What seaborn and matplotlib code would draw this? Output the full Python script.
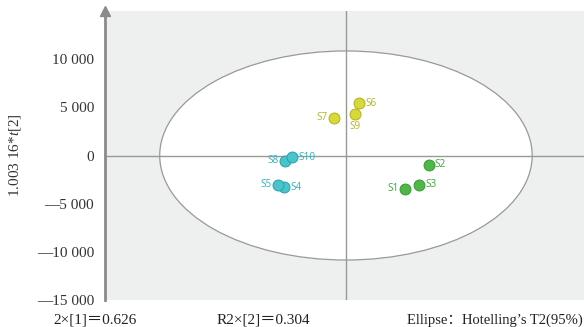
import numpy as np
import pandas as pd
import matplotlib
matplotlib.use("Agg")
import matplotlib.pyplot as plt
from matplotlib.patches import Ellipse
from matplotlib.ticker import MultipleLocator, FuncFormatter
import seaborn as sns

# PCA scores
samples = ["S1", "S2", "S3", "S4", "S5", "S6", "S7", "S8", "S9", "S10"]
t1 = [6150, 8620, 7640, -6430, -7080, 1350, -1220, -6350, 910, -5630]
t2 = [-3470, -970, -3050, -3300, -3020, 5420, 3930, -520, 4340, -180]
groups = ["A", "A", "A", "C", "C", "B", "B", "C", "B", "C"]

# which side of each point its name goes on
label_side = {"S1": "left", "S2": "right", "S3": "right", "S4": "right",
              "S5": "left", "S6": "right", "S7": "left", "S8": "left",
              "S9": "below", "S10": "right"}

# Hotelling's T2 ellipse semi-axes
ell_a = 19400
ell_b = 10850

group_colors = {"A": "#4db848", "B": "#d8d838", "C": "#48c4cc"}
edge_colors = {"A": "#3a9a36", "B": "#b0b020", "C": "#2aa0a8"}
text_colors = {"A": "#45b040", "B": "#b8b830", "C": "#3ab8c0"}

yticks = [-15000, -10000, -5000, 0, 5000, 10000]

df = pd.DataFrame({"sample": samples, "t1": t1, "t2": t2, "group": groups})

sns.set_style("white")
plt.rcParams["font.family"] = ["Liberation Serif", "Noto Sans CJK SC"]
plt.rcParams["mathtext.fontset"] = "custom"
plt.rcParams["mathtext.it"] = "Liberation Serif:italic"
plt.rcParams["mathtext.rm"] = "Liberation Serif"

fig = plt.figure(figsize=(5.84, 3.27), dpi=100)
ax = fig.add_axes([105 / 584, 1 - 300 / 327, 1 - 105 / 584, 289 / 327])
ax.set_facecolor("#eeefef")

ax.set_xlim(-25100, 24800)
ax.set_ylim(-15000, 15000)

ax.add_patch(Ellipse((0, 0), 2 * ell_a, 2 * ell_b, facecolor="white",
                     edgecolor="#999999", linewidth=0.9, zorder=1))
ax.axhline(0, color="#999999", lw=1.0, zorder=2)
ax.axvline(0, color="#999999", lw=1.0, zorder=2)

for g in ["A", "B", "C"]:
    sub = df[df["group"] == g]
    sns.scatterplot(data=sub, x="t1", y="t2", ax=ax, s=62,
                    color=group_colors[g], edgecolor=edge_colors[g],
                    linewidth=0.7, zorder=3, legend=False)

for s, x, y, g in zip(samples, t1, t2, groups):
    side = label_side[s]
    if side == "right":
        off, ha, va = (4.5, 0), "left", "center"
    elif side == "left":
        off, ha, va = (-4.5, 0), "right", "center"
    else:
        off, ha, va = (0, -5.5), "center", "top"
    ax.annotate(s, (x, y), xytext=off, textcoords="offset points",
                ha=ha, va=va, fontsize=7.2, color=text_colors[g],
                family="Noto Sans", zorder=4)

# y axis styling
for side in ["top", "right", "bottom"]:
    ax.spines[side].set_visible(False)
ax.spines["left"].set_color("#8a8a8a")
ax.spines["left"].set_linewidth(2)
ax.set_xticks([])
ax.set_xlabel("")
ax.set_yticks(yticks)
ax.yaxis.set_minor_locator(MultipleLocator(1000))
ax.tick_params(axis="y", which="major", length=5, width=1.2, color="#8a8a8a",
               labelsize=11, labelcolor="#333333", pad=3)
ax.tick_params(axis="y", which="minor", length=3, width=0.8, color="#8a8a8a")


def fmt(v, _):
    v = int(round(v))
    s = f"{abs(v):,}".replace(",", " ")
    return ("\u2014" + s) if v < 0 else s


ax.yaxis.set_major_formatter(FuncFormatter(fmt))
ax.plot([0], [1.0], marker="^", color="#8a8a8a", markersize=7,
        transform=ax.transAxes, clip_on=False, zorder=5)

ax.set_ylabel("1.003 16*$t$[2]", fontsize=11, color="#333333", labelpad=10)

fig.text(95 / 584, 1 - 320 / 327, "2×[1]\uff1d0.626", ha="center", va="center",
         fontsize=11, color="#222222")
fig.text(263 / 584, 1 - 320 / 327, "R2×[2]\uff1d0.304", ha="center", va="center",
         fontsize=11, color="#222222")
fig.text(583 / 584, 1 - 320 / 327, "Ellipse\uff1aHotelling\u2019s T2(95%)",
         ha="right", va="center", fontsize=10.5, color="#222222")

fig.savefig("out.png", dpi=100)
